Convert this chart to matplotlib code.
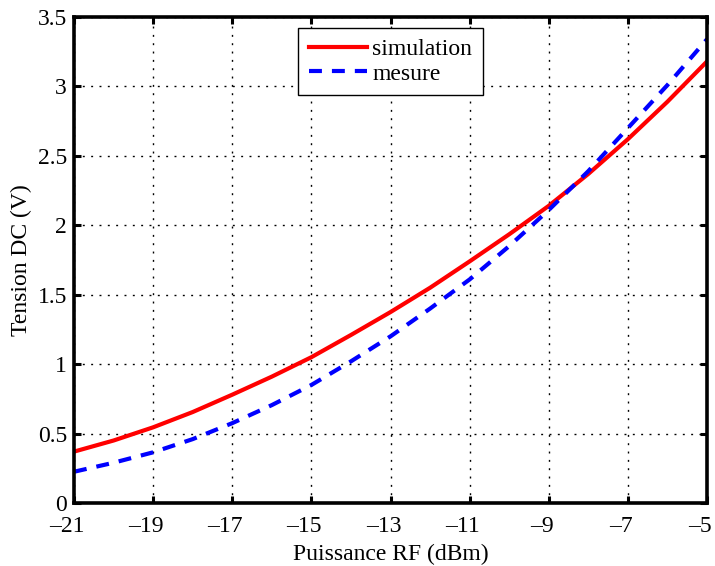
import matplotlib
matplotlib.use("Agg")
import matplotlib.pyplot as plt
import matplotlib.transforms as mtransforms

plt.rcParams['font.family'] = ['Liberation Serif', 'DejaVu Serif']
plt.rcParams['mathtext.fontset'] = 'stix'

puissance = [-21, -20, -19, -18, -17, -16, -15, -14, -13, -12, -11, -10, -9, -8, -7, -6, -5]
simulation = [0.37, 0.45, 0.545, 0.655, 0.78, 0.91, 1.05, 1.21, 1.375, 1.55, 1.74, 1.935, 2.14, 2.37, 2.62, 2.89, 3.18]
mesure = [0.225, 0.29, 0.365, 0.46, 0.575, 0.705, 0.85, 1.02, 1.20, 1.40, 1.61, 1.85, 2.11, 2.39, 2.70, 3.01, 3.34]

xticks = [-21, -19, -17, -15, -13, -11, -9, -7, -5]
xticklabels = ['\u201321', '\u201319', '\u201317', '\u201315', '\u201313', '\u201311', '\u20139', '\u20137', '\u20135']
yticks = [0, 0.5, 1, 1.5, 2, 2.5, 3, 3.5]
yticklabels = ['0', '0.5', '1', '1.5', '2', '2.5', '3', '3.5']

fig = plt.figure(figsize=(7.15, 5.66), dpi=100)
ax = fig.add_axes([74/715, 1 - 503/566, (707-74)/715, (503-17)/566])

ax.plot(puissance, simulation, color='#ff0000', lw=3, label='simulation')
ax.plot(puissance, mesure, color='#0000ff', lw=3, ls=(0, (3.1, 2.4)), label='mesure')

ax.set_xlim(-21, -5)
ax.set_ylim(0, 3.5)
ax.set_xticks(xticks)
ax.set_xticklabels(xticklabels)
ax.set_yticks(yticks)
ax.set_yticklabels(yticklabels)
ax.tick_params(direction='in', length=5, width=2.2, labelsize=17, top=True, right=True, pad=5)
ax.tick_params(axis='x', pad=9)
ax.grid(True, color='black', ls=(0, (1.4, 4.6)), lw=1.0)
for s in ax.spines.values():
    s.set_linewidth(2.6)

offset = mtransforms.ScaledTranslation(-7/100, 0, fig.dpi_scale_trans)
for lab in ax.get_xticklabels():
    lab.set_transform(lab.get_transform() + offset)

ax.set_xlabel('Puissance RF (dBm)', fontsize=17, labelpad=5)
ax.set_ylabel('Tension DC (V)', fontsize=17, labelpad=4)

leg = ax.legend(loc='upper center', bbox_to_anchor=(0.5, 0.977), fontsize=17,
                fancybox=False, edgecolor='black', framealpha=1,
                handlelength=2.45, borderpad=0.45, labelspacing=0.12, handletextpad=0.25,
                borderaxespad=0)
leg.get_frame().set_linewidth(1.0)

fig.savefig('out.png', dpi=100)
